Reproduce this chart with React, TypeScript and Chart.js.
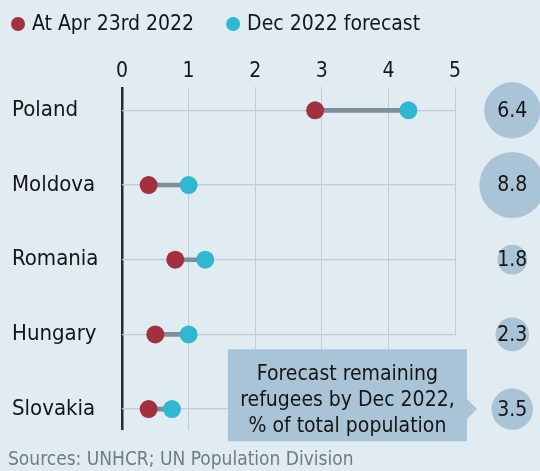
import React, { useEffect, useRef } from "react";
import { Chart, registerables } from "chart.js";

Chart.register(...registerables);

const categories = ["Poland", "Moldova", "Romania", "Hungary", "Slovakia"];
const apr2022 = [2.9, 0.4, 0.8, 0.5, 0.4];
const dec2022 = [4.3, 1.0, 1.25, 1.0, 0.75];
const forecastPct = [6.4, 8.8, 1.8, 2.3, 3.5];
const xTicks = [0, 1, 2, 3, 4, 5];
const seriesNames = ["At Apr 23rd 2022", "Dec 2022 forecast"];
const noteLines = ["Forecast remaining", "refugees by Dec 2022,", "% of total population"];
const sourceText = "Sources: UNHCR; UN Population Division";

const FONT = "'Liberation Sans Narrow', 'DejaVu Sans Condensed', 'Roboto', sans-serif";
const BG = "#e1ebf2";
const RED = "#a3303f";
const CYAN = "#30b8d0";
const BUBBLE = "#a9c4d6";
const GRID = "#c3ccd3";
const INK = "#151515";

export default function App() {
  const ref = useRef<HTMLCanvasElement | null>(null);

  useEffect(() => {
    document.body.style.margin = "0";
    const canvas = ref.current;
    if (!canvas) return;

    const bgPlugin = {
      id: "bg",
      beforeDraw(chart: any) {
        const { ctx, width, height } = chart;
        ctx.save();
        ctx.fillStyle = BG;
        ctx.fillRect(0, 0, width, height);
        ctx.restore();
      },
    };

    const overlayPlugin = {
      id: "overlay",
      afterDatasetsDraw(chart: any) {
        const { ctx } = chart;
        const xs = chart.scales.x;
        const ys = chart.scales.y;
        ctx.save();
        // bubble column: forecast % of population
        const bx = xs.getPixelForValue(5.86);
        forecastPct.forEach((v, i) => {
          const by = ys.getPixelForValue(i);
          ctx.fillStyle = BUBBLE;
          ctx.beginPath();
          ctx.arc(bx, by, 11.1 * Math.sqrt(v), 0, Math.PI * 2);
          ctx.fill();
          ctx.fillStyle = INK;
          ctx.font = `21px ${FONT}`;
          ctx.textAlign = "center";
          ctx.textBaseline = "middle";
          ctx.fillText(v.toFixed(1), bx, by + 1);
        });
        // annotation box
        const left = xs.getPixelForValue(1.59);
        const right = xs.getPixelForValue(5.18);
        const top = ys.getPixelForValue(3.2);
        const bottom = ys.getPixelForValue(4.43);
        const ay = ys.getPixelForValue(4);
        ctx.fillStyle = BG;
        ctx.fillRect(xs.getPixelForValue(5) - 2, ys.getPixelForValue(3) + 1, 4, top - ys.getPixelForValue(3));
        ctx.fillStyle = BUBBLE;
        ctx.beginPath();
        ctx.moveTo(left, top);
        ctx.lineTo(right, top);
        ctx.lineTo(right, ay - 10);
        ctx.lineTo(right + 10, ay);
        ctx.lineTo(right, ay + 10);
        ctx.lineTo(right, bottom);
        ctx.lineTo(left, bottom);
        ctx.closePath();
        ctx.fill();
        ctx.fillStyle = INK;
        ctx.font = `21px ${FONT}`;
        ctx.textAlign = "center";
        ctx.textBaseline = "alphabetic";
        const cx = (left + right) / 2;
        noteLines.forEach((t, i) => {
          ctx.fillText(t, cx, top + 31 + i * 26);
        });
        ctx.restore();
      },
      afterDraw(chart: any) {
        const { ctx } = chart;
        ctx.save();
        // legend built from the scatter datasets
        ctx.font = `21px ${FONT}`;
        ctx.textBaseline = "middle";
        ctx.textAlign = "left";
        let x = 18;
        [1, 2].forEach((di) => {
          const ds = chart.data.datasets[di];
          ctx.fillStyle = ds.backgroundColor;
          ctx.beginPath();
          ctx.arc(x, 24, 7, 0, Math.PI * 2);
          ctx.fill();
          ctx.fillStyle = INK;
          ctx.fillText(ds.label, x + 14, 25);
          x += 14 + ctx.measureText(ds.label).width + 39;
        });
        // source line
        ctx.font = `19px ${FONT}`;
        ctx.fillStyle = "#6e7c86";
        ctx.fillText(sourceText, 8, 460);
        ctx.restore();
      },
    };

    const chart = new Chart(canvas, {
      type: "bar",
      data: {
        datasets: [
          {
            type: "bar",
            indexAxis: "y",
            data: categories.map((_, i) => ({ y: i, x: [apr2022[i], dec2022[i]] })),
            backgroundColor: "#7d8f98",
            barThickness: 4,
            order: 5,
          } as any,
          {
            type: "scatter",
            label: seriesNames[0],
            data: categories.map((_, i) => ({ x: apr2022[i], y: i })),
            backgroundColor: RED,
            borderWidth: 0,
            pointRadius: 9,
            order: 1,
          },
          {
            type: "scatter",
            label: seriesNames[1],
            data: categories.map((_, i) => ({ x: dec2022[i], y: i })),
            backgroundColor: CYAN,
            borderWidth: 0,
            pointRadius: 9,
            order: 2,
          },
        ],
      },
      options: {
        animation: false,
        responsive: false,
        events: [],
        layout: { padding: { left: 12, right: 85, top: 56, bottom: 41 } },
        plugins: {
          legend: { display: false },
          title: { display: false },
          tooltip: { enabled: false },
        },
        scales: {
          x: {
            type: "linear",
            position: "top",
            offset: false,
            min: 0,
            max: 5,
            afterBuildTicks: (scale: any) => {
              scale.ticks = xTicks.map((v) => ({ value: v }));
            },
            ticks: {
              color: INK,
              font: { family: FONT, size: 21 },
              padding: 3,
              callback: (v: any) => String(v),
            },
            grid: {
              offset: false,
              drawTicks: false,
              color: (c: any) => (c.tick && c.tick.value === 0 ? "#222a30" : GRID),
              lineWidth: (c: any) => (c.tick && c.tick.value === 0 ? 2.5 : 1),
            },
            border: { display: false },
          },
          y: {
            type: "linear",
            reverse: true,
            offset: false,
            min: -0.31,
            max: 4.28,
            afterBuildTicks: (scale: any) => {
              scale.ticks = categories.map((_, i) => ({ value: i }));
            },
            afterFit: (scale: any) => {
              scale.width = 110;
            },
            ticks: {
              color: INK,
              crossAlign: "far",
              font: { family: FONT, size: 22 },
              callback: (v: any) => categories[v] ?? "",
            },
            grid: { offset: false, drawTicks: false, color: GRID, lineWidth: 1.2 },
            border: { display: false },
          },
        },
      },
      plugins: [bgPlugin, overlayPlugin],
    } as any);

    return () => chart.destroy();
  }, []);

  return (
    <div style={{ width: 540, height: 471 }}>
      <canvas ref={ref} width={540} height={471} style={{ display: "block" }} />
    </div>
  );
}
